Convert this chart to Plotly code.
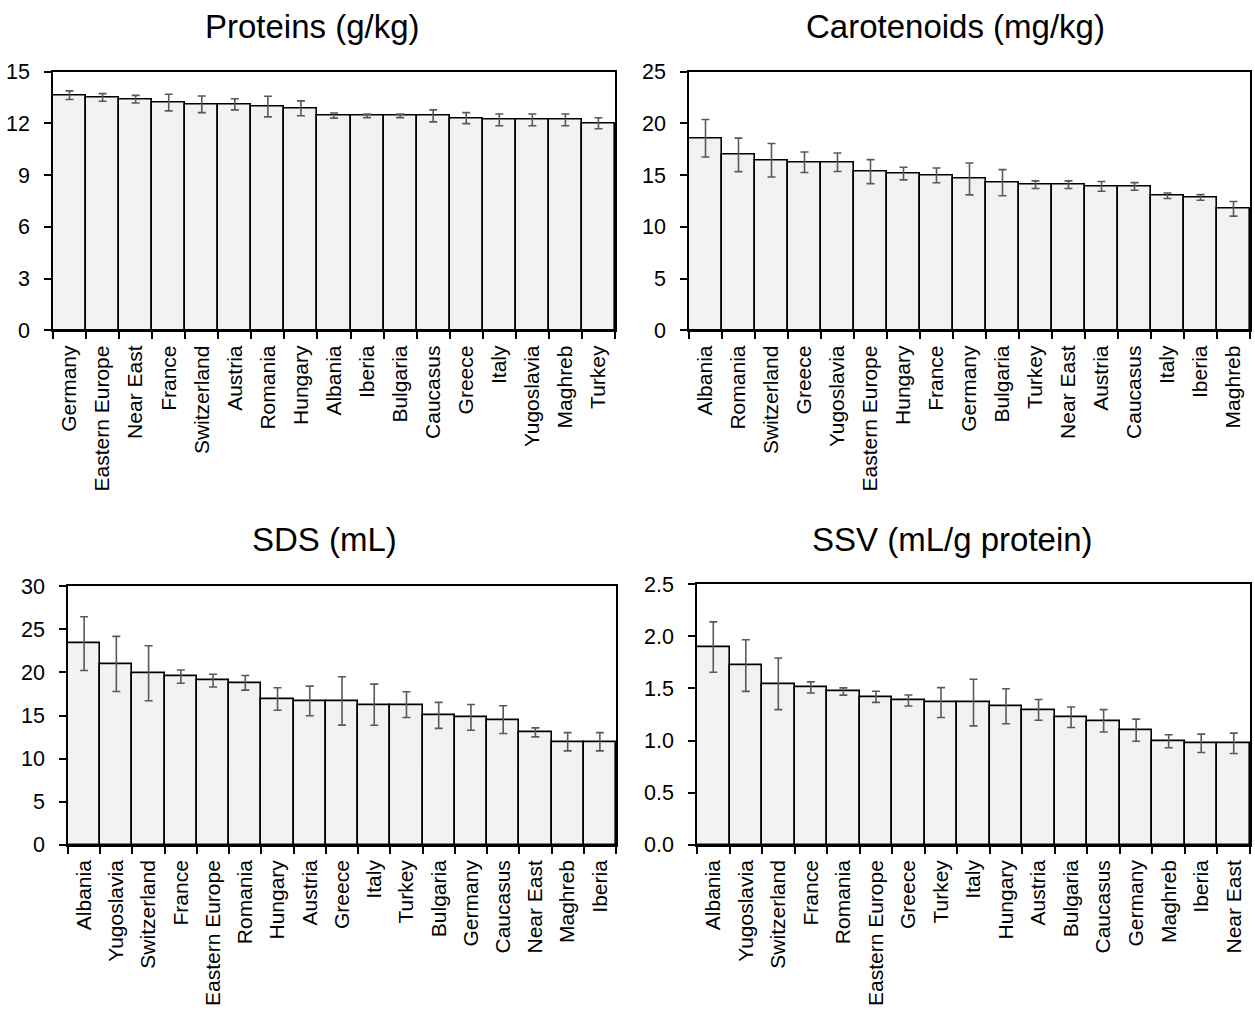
import plotly.graph_objects as go

# ---------------- data ----------------
prot_cat = ["Germany", "Eastern Europe", "Near East", "France", "Switzerland", "Austria",
            "Romania", "Hungary", "Albania", "Iberia", "Bulgaria", "Caucasus", "Greece",
            "Italy", "Yugoslavia", "Maghreb", "Turkey"]
prot_val = [13.63, 13.5, 13.4, 13.2, 13.1, 13.1, 12.97, 12.87, 12.45, 12.43, 12.43, 12.43,
            12.3, 12.2, 12.2, 12.2, 12.0]
prot_err = [0.25, 0.22, 0.22, 0.48, 0.48, 0.32, 0.6, 0.43, 0.15, 0.1, 0.1, 0.35, 0.32,
            0.34, 0.34, 0.34, 0.32]

car_cat = ["Albania", "Romania", "Switzerland", "Greece", "Yugoslavia", "Eastern Europe",
           "Hungary", "France", "Germany", "Bulgaria", "Turkey", "Near East", "Austria",
           "Caucasus", "Italy", "Iberia", "Maghreb"]
car_val = [18.56, 16.95, 16.43, 16.24, 16.24, 15.33, 15.14, 14.97, 14.62, 14.26, 14.07,
           14.07, 13.9, 13.9, 13.0, 12.84, 11.74]
car_err = [1.81, 1.62, 1.62, 0.99, 0.89, 1.16, 0.61, 0.71, 1.54, 1.26, 0.37, 0.37, 0.47,
           0.37, 0.27, 0.27, 0.71]

sds_cat = ["Albania", "Yugoslavia", "Switzerland", "France", "Eastern Europe", "Romania",
           "Hungary", "Austria", "Greece", "Italy", "Turkey", "Bulgaria", "Germany",
           "Caucasus", "Near East", "Maghreb", "Iberia"]
sds_val = [23.34, 20.98, 19.9, 19.51, 19.05, 18.8, 16.92, 16.69, 16.69, 16.26, 16.26,
           15.02, 14.79, 14.52, 13.05, 11.96, 11.96]
sds_err = [3.12, 3.2, 3.19, 0.77, 0.74, 0.85, 1.3, 1.72, 2.8, 2.38, 1.49, 1.51, 1.49,
           1.61, 0.52, 1.06, 1.06]

ssv_cat = ["Albania", "Yugoslavia", "Switzerland", "France", "Romania", "Eastern Europe",
           "Greece", "Turkey", "Italy", "Hungary", "Austria", "Bulgaria", "Caucasus",
           "Germany", "Maghreb", "Iberia", "Near East"]
ssv_val = [1.897, 1.72, 1.545, 1.51, 1.471, 1.42, 1.385, 1.365, 1.365, 1.33, 1.295,
           1.224, 1.19, 1.10, 0.994, 0.974, 0.974]
ssv_err = [0.242, 0.248, 0.248, 0.053, 0.035, 0.053, 0.053, 0.143, 0.223, 0.168, 0.1,
           0.098, 0.107, 0.106, 0.062, 0.088, 0.098]

titles = ["Proteins (g/kg)", "Carotenoids (mg/kg)", "SDS (mL)", "SSV (mL/g protein)"]
y_ranges = [[0, 15], [0, 25], [0, 30], [0, 2.5]]
y_dticks = [3, 5, 5, 0.5]
y_formats = ["d", "d", "d", ".1f"]

# ---------------- layout geometry (page pixels) ----------------
W, H = 1255, 1021
# (left, right, top, bottom) in page pixels
boxes = [(53, 615, 62, 327), (689, 1250, 62, 327), (68, 616, 589, 854), (697, 1250, 587, 854)]
title_pos = [(312, 16), (955, 16), (324, 541), (953, 541)]


def xd(px):
    return min(1.0, max(0.0, px / W))


def yd(py):
    return min(1.0, max(0.0, 1 - py / H))


fig = go.Figure()
datasets = [(prot_cat, prot_val, prot_err), (car_cat, car_val, car_err),
            (sds_cat, sds_val, sds_err), (ssv_cat, ssv_val, ssv_err)]

font_family = "Liberation Sans, Arial, sans-serif"

for i, (cats, vals, errs) in enumerate(datasets):
    n = i + 1
    xa = "x" if n == 1 else f"x{n}"
    ya = "y" if n == 1 else f"y{n}"
    fig.add_trace(go.Bar(
        x=cats, y=vals, xaxis=xa, yaxis=ya,
        marker=dict(color="#f2f2f2", line=dict(color="black", width=1.6)),
        error_y=dict(type="data", array=errs, visible=True, color="#595959",
                     thickness=1.6, width=4),
        showlegend=False,
    ))
    l, r, t, b = boxes[i]
    xkey = "xaxis" if n == 1 else f"xaxis{n}"
    ykey = "yaxis" if n == 1 else f"yaxis{n}"
    fig.layout[xkey] = dict(
        domain=[xd(l), xd(r)], anchor=ya, type="category",
        showline=True, linecolor="black", linewidth=1.6, mirror=True,
        ticks="outside", tickson="boundaries", ticklen=7, tickcolor="black", tickwidth=1.6,
        tickangle=-90, tickfont=dict(size=21, color="black", family=font_family),
        ticklabelstandoff=5,
        showgrid=False, zeroline=False, fixedrange=True,
    )
    fig.layout[ykey] = dict(
        domain=[yd(b), yd(t)], anchor=xa, range=y_ranges[i], dtick=y_dticks[i],
        tickformat=y_formats[i],
        showline=True, linecolor="black", linewidth=1.6, mirror=True,
        ticks="outside", ticklen=7, tickcolor="black", tickwidth=1.6,
        tickfont=dict(size=21.5, color="black", family=font_family),
        ticklabelstandoff=10,
        showgrid=False, zeroline=False, fixedrange=True,
    )
    tx, ty = title_pos[i]
    fig.add_annotation(text=titles[i], x=xd(tx), y=yd(ty), xref="paper", yref="paper",
                       xanchor="center", yanchor="middle", showarrow=False,
                       font=dict(size=33, color="black", family=font_family))

fig.update_layout(
    width=W, height=H, margin=dict(l=0, r=0, t=0, b=0),
    paper_bgcolor="white", plot_bgcolor="white",
    bargap=0, font=dict(family=font_family, color="black"),
)

fig.write_html("out.html", config={"displayModeBar": False},
               post_script="document.body.style.margin='0px';document.body.style.overflow='hidden';")
